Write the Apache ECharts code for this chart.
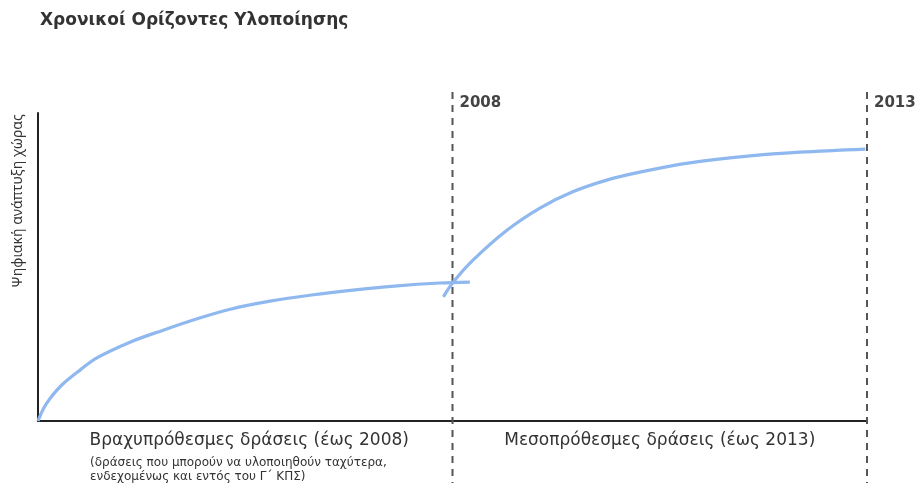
<!DOCTYPE html>
<html>
<head>
<meta charset="utf-8">
<script src="https://cdn.jsdelivr.net/npm/echarts@6/dist/echarts.min.js"></script>
<style>html,body{margin:0;padding:0;background:#fff;}#c{width:923px;height:483px;}</style>
</head>
<body>
<div id="c"></div>
<script>
// Data (x = year, y = relative level 0–100)
const shortX = [2003.0, 2003.07, 2003.15, 2003.3, 2003.51, 2003.71, 2004.11, 2004.51, 2004.92, 2005.32, 2005.8, 2006.3, 2006.8, 2007.3, 2007.85, 2008.21];
const shortY = [0, 4.2, 7.5, 12.0, 16.6, 20.5, 25.6, 29.5, 33.2, 36.3, 38.9, 40.9, 42.5, 43.8, 44.8, 45.1];
const midX = [2007.89, 2008.01, 2008.25, 2008.66, 2009.06, 2009.45, 2009.86, 2010.26, 2010.86, 2011.59, 2012.19, 2012.98];
const midY = [40.3, 45.1, 52.3, 62.0, 69.2, 74.4, 78.2, 80.8, 83.8, 86.1, 87.3, 88.3];
const milestones = [2008, 2013];
const milestoneLabels = ['2008', '2013'];
const title = 'Χρονικοί Ορίζοντες Υλοποίησης';
const yName = 'Ψηφιακή ανάπτυξη χώρας';
const periodLabels = ['Βραχυπρόθεσμες δράσεις (έως 2008)', 'Μεσοπρόθεσμες δράσεις (έως 2013)'];
const periodNote = ['(δράσεις που μπορούν να υλοποιηθούν ταχύτερα,', 'ενδεχομένως και εντός του Γ΄ ΚΠΣ)'];
const xMin = 2003, xMax = 2013;

const zip = (xs, ys) => xs.map((x, i) => [x, ys[i]]);
const chart = echarts.init(document.getElementById('c'));
const lineStyle = { color: '#8fb8ef', width: 3.2 };
chart.setOption({
  animation: false,
  backgroundColor: '#fff',
  grid: { left: 38, right: 56, top: 113, bottom: 62, containLabel: false },
  xAxis: {
    type: 'value', min: xMin, max: xMax,
    axisLine: { show: true, lineStyle: { color: '#222', width: 2 } },
    axisTick: { show: false }, axisLabel: { show: false }, splitLine: { show: false }
  },
  yAxis: {
    type: 'value', min: 0, max: 100,
    axisLine: { show: true, lineStyle: { color: '#222', width: 2 } },
    axisTick: { show: false }, axisLabel: { show: false }, splitLine: { show: false }
  },
  series: [
    { type: 'line', data: zip(shortX, shortY), smooth: 0.35, showSymbol: false, lineStyle: lineStyle, z: 3 },
    { type: 'line', data: zip(midX, midY), smooth: 0.35, showSymbol: false, lineStyle: lineStyle, z: 3 }
  ]
});

const px = v => chart.convertToPixel({ xAxisIndex: 0 }, v);
const x0 = px(xMin), xm = px(milestones[0]), x1 = px(milestones[1]);
const graphic = [
  { type: 'text', left: 40, top: 12, style: { text: title, font: 'bold 17px "DejaVu Sans"', fill: '#333' } },
  { type: 'text', x: 18, y: 201, rotation: Math.PI / 2, style: { text: yName, font: '14px "Noto Sans"', fill: '#333', align: 'center', verticalAlign: 'middle' } }
];
milestones.forEach((m, i) => {
  const x = px(m);
  graphic.push({ type: 'line', shape: { x1: x, y1: 92, x2: x, y2: 483 }, style: { stroke: '#555', lineWidth: 2, lineDash: [7, 6] }, z: 1 });
  graphic.push({ type: 'text', x: x + 7, y: 103, style: { text: milestoneLabels[i], font: 'bold 15px "DejaVu Sans"', fill: '#444', verticalAlign: 'middle' } });
});
graphic.push({ type: 'text', x: (x0 + xm) / 2 + 4, y: 441, style: { text: periodLabels[0], font: '17px "DejaVu Sans"', fill: '#333', align: 'center', verticalAlign: 'middle' } });
graphic.push({ type: 'text', x: (xm + x1) / 2, y: 441, style: { text: periodLabels[1], font: '17px "DejaVu Sans"', fill: '#333', align: 'center', verticalAlign: 'middle' } });
graphic.push({ type: 'text', x: 90, y: 463, style: { text: periodNote[0], font: '12px "DejaVu Sans"', fill: '#333', verticalAlign: 'middle' } });
graphic.push({ type: 'text', x: 90, y: 477, style: { text: periodNote[1], font: '12px "DejaVu Sans"', fill: '#333', verticalAlign: 'middle' } });
chart.setOption({ graphic: graphic });
</script>
</body>
</html>
